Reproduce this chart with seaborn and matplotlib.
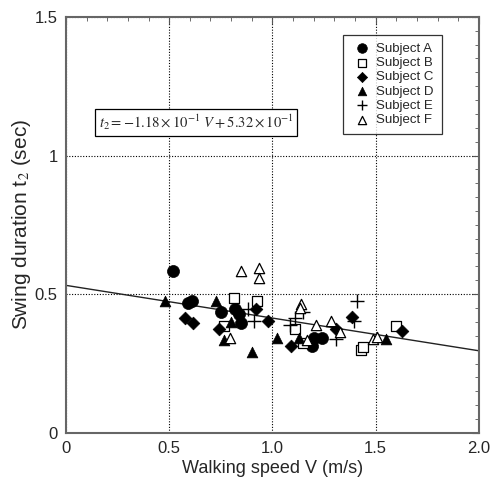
import numpy as np
import pandas as pd
import matplotlib
matplotlib.use("Agg")
import matplotlib.pyplot as plt
from matplotlib.ticker import MultipleLocator
import seaborn as sns

# --- data ---
speed_a = [0.52, 0.59, 0.61, 0.75, 0.82, 0.84, 0.85, 1.19, 1.20, 1.24]
swing_a = [0.584, 0.468, 0.476, 0.436, 0.446, 0.43, 0.398, 0.314, 0.341, 0.341]

speed_b = [0.815, 0.926, 0.765, 1.11, 1.15, 1.43, 1.44, 1.597]
swing_b = [0.486, 0.476, 0.386, 0.373, 0.323, 0.299, 0.308, 0.386]

speed_c = [0.579, 0.616, 0.739, 0.92, 0.98, 1.09, 1.306, 1.383, 1.628]
swing_c = [0.415, 0.397, 0.373, 0.446, 0.403, 0.312, 0.374, 0.417, 0.368]

speed_d = [0.48, 0.726, 0.80, 0.766, 0.902, 1.021, 1.128, 1.549]
swing_d = [0.476, 0.477, 0.401, 0.334, 0.293, 0.341, 0.341, 0.338]

speed_e = [0.884, 0.91, 1.148, 1.11, 1.087, 1.309, 1.408, 1.394]
swing_e = [0.445, 0.403, 0.437, 0.414, 0.39, 0.337, 0.476, 0.404]

speed_f = [0.85, 0.936, 0.933, 0.794, 1.14, 1.135, 1.212, 1.282, 1.328, 1.167, 1.488, 1.504]
swing_f = [0.582, 0.594, 0.559, 0.341, 0.464, 0.449, 0.39, 0.403, 0.365, 0.335, 0.338, 0.345]

subjects = ["Subject A", "Subject B", "Subject C", "Subject D", "Subject E", "Subject F"]
speeds = [speed_a, speed_b, speed_c, speed_d, speed_e, speed_f]
swings = [swing_a, swing_b, swing_c, swing_d, swing_e, swing_f]

# regression t2 = -1.18e-1 V + 5.32e-1
slope = -0.118
intercept = 0.532
fit_x = np.array([0.0, 2.0])

df = pd.concat(
    [pd.DataFrame({"subject": s, "speed": v, "swing": t}) for s, v, t in zip(subjects, speeds, swings)],
    ignore_index=True,
)

# --- styling ---
sns.set_style("white")
plt.rcParams["font.family"] = ["Liberation Sans", "DejaVu Sans"]
plt.rcParams["mathtext.fontset"] = "stix"

markers = {"Subject A": "o", "Subject B": "s", "Subject C": "D",
           "Subject D": "^", "Subject E": "+", "Subject F": "^"}
sizes = {"Subject A": 75, "Subject B": 60, "Subject C": 42,
         "Subject D": 60, "Subject E": 95, "Subject F": 55}
open_marker = {"Subject B", "Subject F"}

fig = plt.figure(figsize=(4.99, 4.97), dpi=100)
ax = fig.add_axes([0.132, 0.129, 0.828, 0.837])

ax.plot(fit_x, intercept + slope * fit_x, color="#222222", lw=1.0, zorder=2)

for s in subjects:
    sub = df[df["subject"] == s]
    if s in open_marker:
        kw = dict(facecolor="white", edgecolor="black", linewidth=0.9)
    elif markers[s] == "+":
        kw = dict(color="black", linewidth=1.0)
    else:
        kw = dict(color="black", edgecolor="black", linewidth=0.5)
    sns.scatterplot(data=sub, x="speed", y="swing", marker=markers[s], s=sizes[s],
                    label=s, ax=ax, zorder=3, **kw)

ax.set_xlim(0, 2.0)
ax.set_ylim(0, 1.5)
ax.xaxis.set_major_locator(MultipleLocator(0.5))
ax.xaxis.set_minor_locator(MultipleLocator(0.1))
ax.yaxis.set_major_locator(MultipleLocator(0.5))
ax.yaxis.set_minor_locator(MultipleLocator(0.05))
ax.set_xticks([0, 0.5, 1.0, 1.5, 2.0], ["0", "0.5", "1.0", "1.5", "2.0"])
ax.set_yticks([0, 0.5, 1.0, 1.5], ["0", "0.5", "1", "1.5"])

ax.tick_params(which="both", direction="in", top=True, right=True, color="#555555")
ax.tick_params(which="major", length=5, labelsize=12, pad=6)
ax.tick_params(which="minor", length=3)
ax.grid(True, which="major", color="black", linestyle=(0, (1, 1.5)), linewidth=0.8)
ax.set_axisbelow(True)
for sp in ax.spines.values():
    sp.set_color("#666666")
    sp.set_linewidth(1.5)

ax.set_xlabel("Walking speed V (m/s)", fontsize=13, labelpad=3)
ax.set_ylabel("Swing duration t$_2$ (sec)", fontsize=15, labelpad=1)

ax.text(0.16, 1.12,
        r"$t_2 = -1.18\times10^{-1}\ V + 5.32\times10^{-1}$",
        fontsize=10.5, va="center", ha="left",
        bbox=dict(boxstyle="square,pad=0.25", facecolor="white", edgecolor="black", linewidth=0.9))

leg = ax.legend(loc="upper right", bbox_to_anchor=(0.91, 0.957), fontsize=9.5, frameon=True,
                fancybox=False, edgecolor="black", handletextpad=0.3, borderpad=0.6,
                labelspacing=0.15, handlelength=1.6, markerscale=0.8, borderaxespad=0)
leg.get_frame().set_linewidth(0.9)

fig.savefig("out.png", dpi=100)
